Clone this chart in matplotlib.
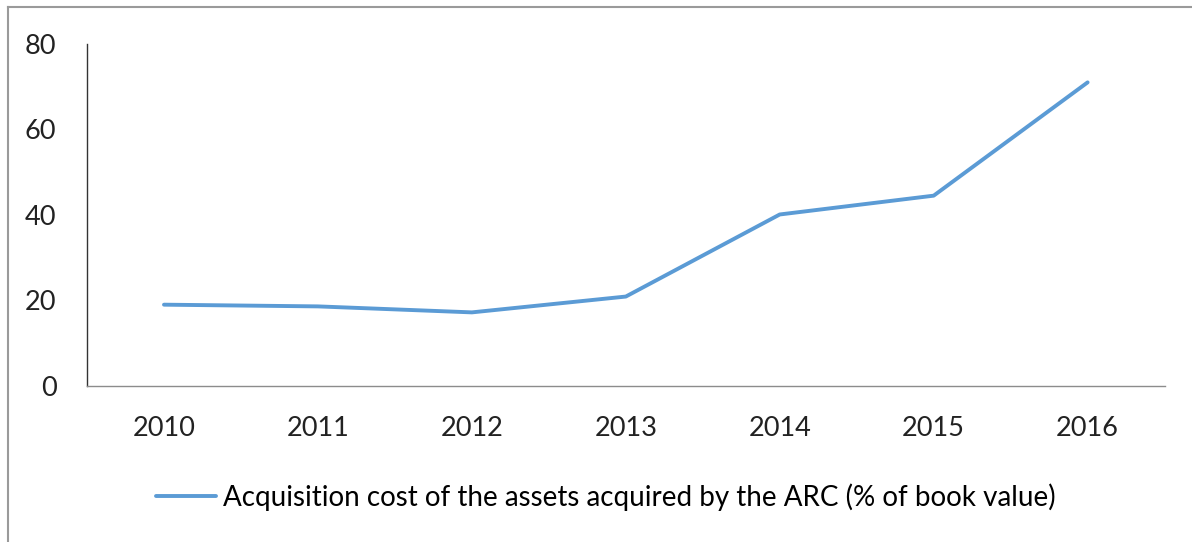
import matplotlib.pyplot as plt
from matplotlib.lines import Line2D

years = ["2010", "2011", "2012", "2013", "2014", "2015", "2016"]
cost_pct = [19.0, 18.6, 17.2, 20.9, 40.1, 44.5, 71.0]
yticks = [0, 20, 40, 60, 80]
series_label = "Acquisition cost of the assets acquired by the ARC (% of book value)"

plt.rcParams["font.family"] = ["Lato", "DejaVu Sans"]

fig = plt.figure(figsize=(11.92, 5.42), dpi=100)
ax = fig.add_axes([0.073, 0.288, 0.904, 0.631])

x = range(len(years))
ax.plot(x, cost_pct, color="#5B9BD5", linewidth=2.8, solid_capstyle="round",
        label=series_label)

ax.set_xlim(-0.5, len(years) - 0.5)
ax.set_ylim(0, 80)
ax.set_yticks(yticks)
ax.set_xticks(list(x))
ax.set_xticklabels(years)
ax.tick_params(axis="both", length=0, labelsize=19.5, colors="#222222")
ax.tick_params(axis="x", pad=22)
ax.tick_params(axis="y", pad=22)

for side in ["top", "right"]:
    ax.spines[side].set_visible(False)
ax.spines["left"].set_color("#333333")
ax.spines["bottom"].set_color("#8c8c8c")
ax.spines["left"].set_linewidth(1.0)
ax.spines["bottom"].set_linewidth(1.0)

fig.legend(loc="center", bbox_to_anchor=(0.508, 0.083), frameon=False,
           fontsize=20, handlelength=2.15, handletextpad=0.25)

# outer frame (top and left edges only)
fig.add_artist(Line2D([0.007, 1.0], [0.987, 0.987], color="#9a9a9a",
                      linewidth=1.5, transform=fig.transFigure))
fig.add_artist(Line2D([0.007, 0.007], [0.0, 0.987], color="#9a9a9a",
                      linewidth=1.5, transform=fig.transFigure))

fig.savefig("out.png", dpi=100)
